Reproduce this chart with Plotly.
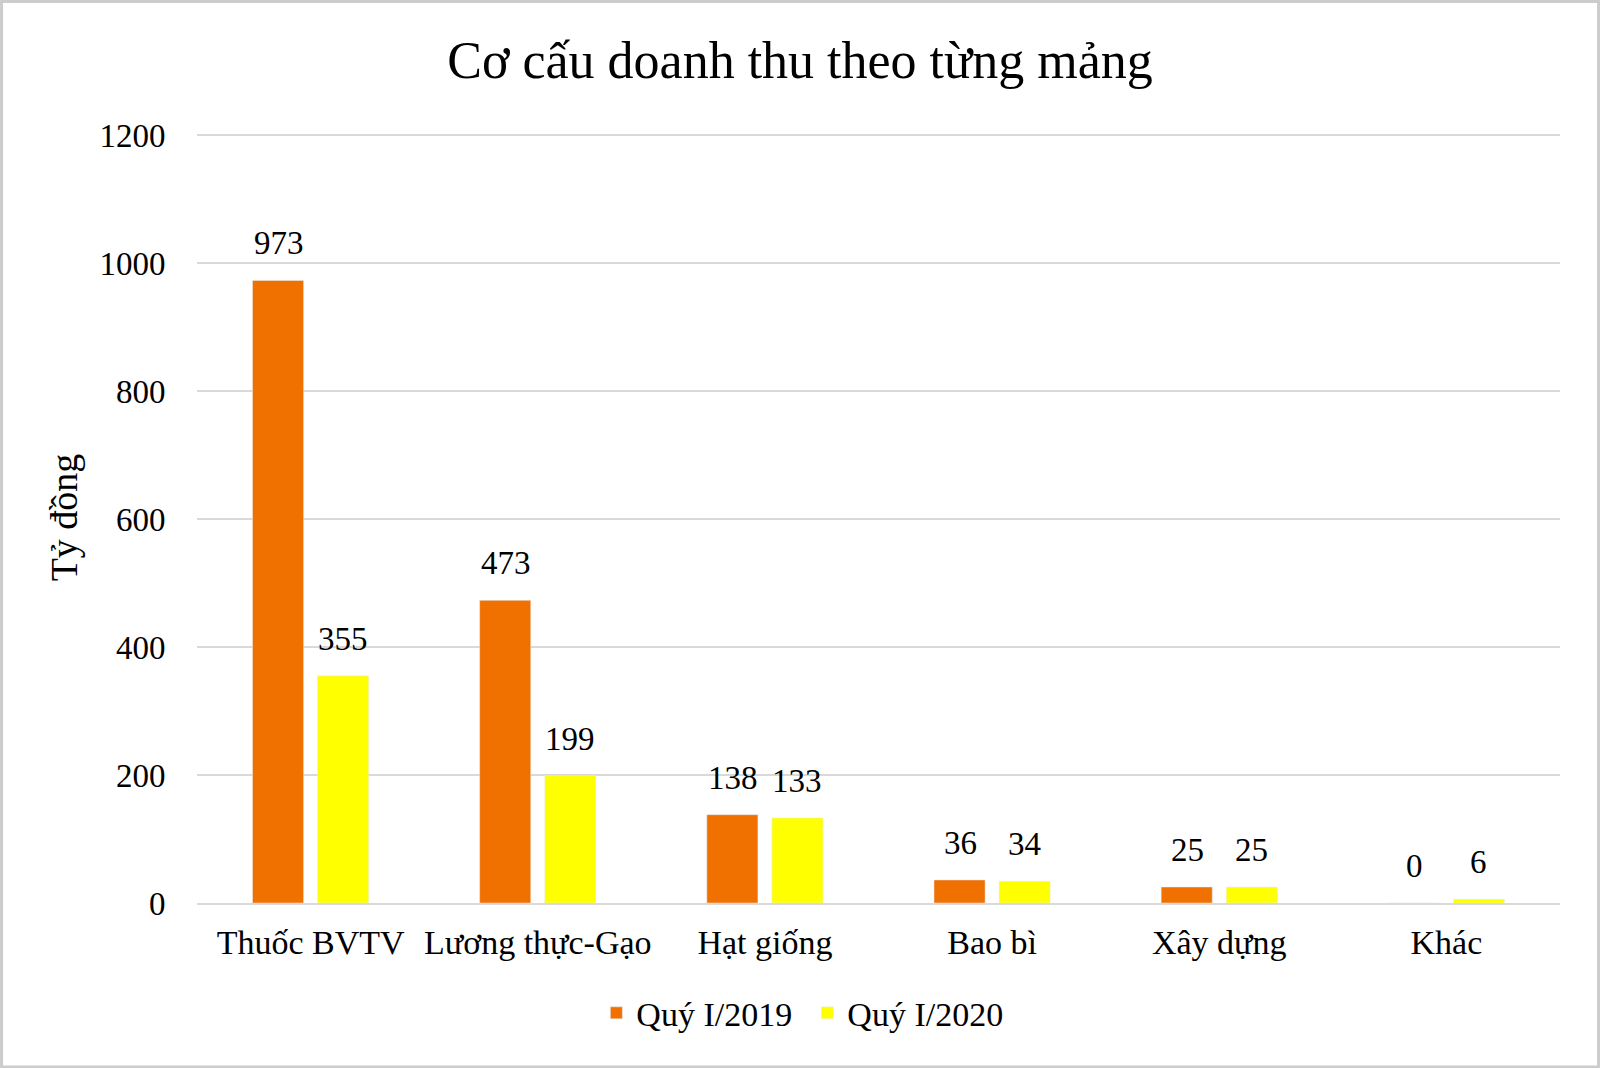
import plotly.graph_objects as go

# data
categories = ["Thuốc BVTV", "Lương thực-Gạo", "Hạt giống", "Bao bì", "Xây dựng", "Khác"]
q1_2019 = [973, 473, 138, 36, 25, 0]
q1_2020 = [355, 199, 133, 34, 25, 6]
series_names = ["Quý I/2019", "Quý I/2020"]
y_ticks = [0, 200, 400, 600, 800, 1000, 1200]

ORANGE = "#F07000"
YELLOW = "#FFFF00"
GRID = "#D9D9D9"
FONT = "Liberation Serif, Times New Roman, serif"

fig = go.Figure()
fig.add_trace(go.Bar(x=categories, y=q1_2019, name=series_names[0], marker_color=ORANGE))
fig.add_trace(go.Bar(x=categories, y=q1_2020, name=series_names[1], marker_color=YELLOW))

# value labels, lifted a little above the bars like in the original
for vals, shift in [(q1_2019, -32), (q1_2020, 32)]:
    for c, v in zip(categories, vals):
        fig.add_annotation(x=c, y=v, text=str(v), showarrow=False,
                           xshift=shift, yshift=17, yanchor="bottom",
                           font=dict(size=33, color="#000000", family=FONT))

# light grey frame round the whole picture
fig.add_shape(type="rect", xref="paper", yref="paper",
              x0=-0.1434, x1=1.0283, y0=-0.2127, y1=1.1692,
              line=dict(color="#CCCCCC", width=3), layer="below")

fig.update_layout(
    width=1600, height=1068,
    margin=dict(l=197, r=40, t=132, b=165),
    paper_bgcolor="white", plot_bgcolor="white",
    font=dict(family=FONT, size=33, color="#000000"),
    title=dict(text="Cơ cấu doanh thu theo từng mảng", x=0.5, xref="container",
               y=0.944, yref="container", xanchor="center", yanchor="middle",
               font=dict(size=52, family=FONT, color="#000000")),
    barmode="group", bargap=0.427, bargroupgap=0.215,
    showlegend=True,
    legend=dict(orientation="h", x=0.293, xanchor="left", y=-0.143, yanchor="middle",
                font=dict(size=34, family=FONT), itemwidth=30,
                entrywidth=166, entrywidthmode="pixels"),
)
fig.update_yaxes(range=[0, 1205], tickvals=y_ticks, showgrid=True, gridcolor=GRID, gridwidth=2,
                 zeroline=False, showline=False, ticks="outside", ticklen=24,
                 tickcolor="rgba(0,0,0,0)", tickfont=dict(size=33),
                 title=dict(text="Tỷ đồng", standoff=10, font=dict(size=38)))
fig.update_xaxes(showline=True, linecolor=GRID, linewidth=2, ticks="outside", ticklen=8,
                 tickcolor="rgba(0,0,0,0)", tickfont=dict(size=34))

# drop the browser's default page margin so the figure sits at the window corner
fig.write_html("out.html", config={"displayModeBar": False},
               post_script="document.body.style.margin='0';")
